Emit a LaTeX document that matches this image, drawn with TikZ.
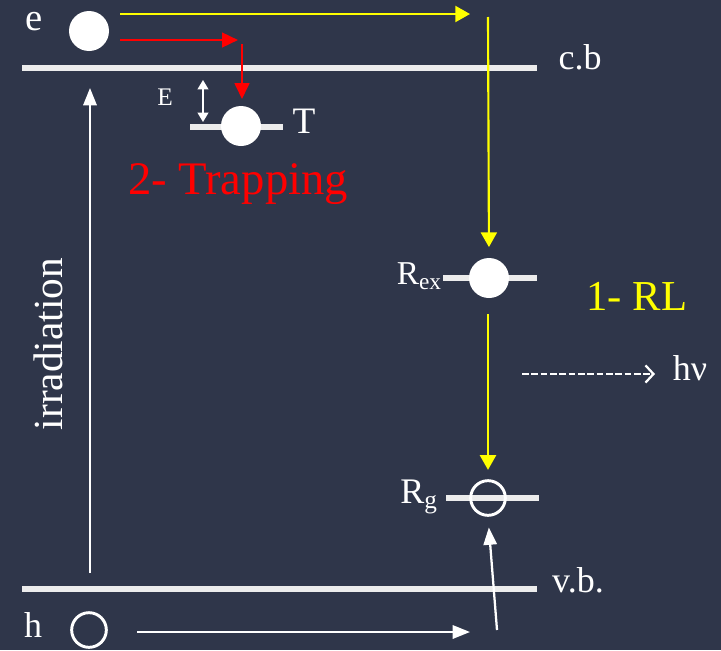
\documentclass[tikz,border=0pt]{standalone}
\usepackage{fontspec}
\setmainfont{Liberation Serif}
\usetikzlibrary{arrows.meta}
\definecolor{bg}{RGB}{47,54,74}
\definecolor{lvl}{RGB}{236,236,236}
\definecolor{yel}{RGB}{255,255,0}
\definecolor{rd}{RGB}{255,0,0}
\tikzset{
  level/.style={draw=lvl, line width=3.8pt},
  full/.style={circle, fill=white, inner sep=0pt, minimum size=30pt},
  hole/.style={circle, draw=white, line width=2.2pt, inner sep=0pt, minimum size=26pt},
  lbl/.style={text=white, inner sep=0pt, font=\fontsize{27}{30}\selectfont},
  yarrow/.style={draw=yel, line width=1.6pt, -{Triangle[length=11pt,width=12pt]}},
  rarrow/.style={draw=rd, line width=1.9pt, -{Triangle[length=12pt,width=11pt]}},
  warrow/.style={draw=white, line width=1.7pt, -{Triangle[length=13pt,width=10pt]}},
}
\begin{document}
\begin{tikzpicture}[x=0.75pt,y=-0.75pt]
\fill[bg] (0,0) rectangle (721,650);
\useasboundingbox (0,0) rectangle (721,650);
% levels
\draw[level] (22,68) -- (537,68);
\draw[level] (22,589) -- (537,589);
\draw[level] (190,127) -- (283,127);
\draw[level] (443,278) -- (537,278);
\draw[level] (446,498) -- (539,498);
% particles
\node[full] (e) at (89,31) {};
\node[full] (t) at (241,126) {};
\node[full] (rex) at (489,278) {};
\node[hole] (rg) at (488,498) {};
\node[hole] (h) at (89,630) {};
% coordinates
\coordinate (y1) at (120,14);
\coordinate (y2) at (470,14);
\coordinate (y3) at (488,17);
\coordinate (y4) at (488,314);
\coordinate (r1) at (120,40);
\coordinate (r2) at (238,40);
\coordinate (r3) at (242,44);
\coordinate (ea) at (203,80);
\coordinate (eb) at (203,122);
\coordinate (i1) at (90,573);
\coordinate (i2) at (90,88);
\coordinate (h1) at (137,632);
\coordinate (h2) at (470,632);
\coordinate (h3) at (497,630);
\coordinate (d1) at (522,374);
\coordinate (d2) at (655,374);
% yellow
\draw[yarrow] (y1) -- (y2);
\draw[yarrow, shorten >=8pt] (y3) -- (rex.north);
\draw[yarrow, shorten >=7pt] (y4) -- (rg.north);
% red
\draw[rarrow] (r1) -- (r2);
\draw[rarrow, shorten >=5pt] (r3) -- (t.north -| r3);
% white
\draw[draw=white, line width=1.3pt, {Triangle[length=7pt,width=8pt]}-{Triangle[length=7pt,width=8pt]}] (ea) -- (eb);
\draw[warrow] (i1) -- (i2);
\draw[warrow] (h1) -- (h2);
\draw[warrow, shorten >=8pt] (h3) -- (rg.south);
\draw[draw=white, line width=1.7pt, dashed, dash pattern=on 5pt off 2pt, -{Straight Barb[length=6pt,width=13pt]}] (d1) -- (d2);
% labels
\node[lbl, font=\fontsize{29}{32}\selectfont] (le) at (34,22) {e};
\node[lbl] (lcb) at (580,57) {c.b};
\node[lbl, font=\fontsize{28}{31}\selectfont] (lt) at (304,121) {T};
\node[lbl, font=\fontsize{19}{22}\selectfont] (lE) at (165,97) {E};
\node[lbl, text=rd, font=\fontsize{35}{38}\selectfont] (ltrap) at (238,184) {2- Trapping};
\node[lbl, anchor=east, font=\fontsize{25}{28}\selectfont] (lrex) at (442,276) {R\textsubscript{ex}};
\node[lbl, text=yel, font=\fontsize{32}{35}\selectfont] (lrl) at (637,296) {1- RL};
\node[lbl] (lhv) at (690,368) {hν};
\node[lbl, anchor=east] (lrg) at (438,497) {R\textsubscript{g}};
\node[lbl] (lvb) at (578,580) {v.b.};
\node[lbl] (lh) at (33,625) {h};
\node[lbl, rotate=90, font=\fontsize{31}{34}\selectfont] (lirr) at (48,344) {irradiation};
\end{tikzpicture}
\end{document}
